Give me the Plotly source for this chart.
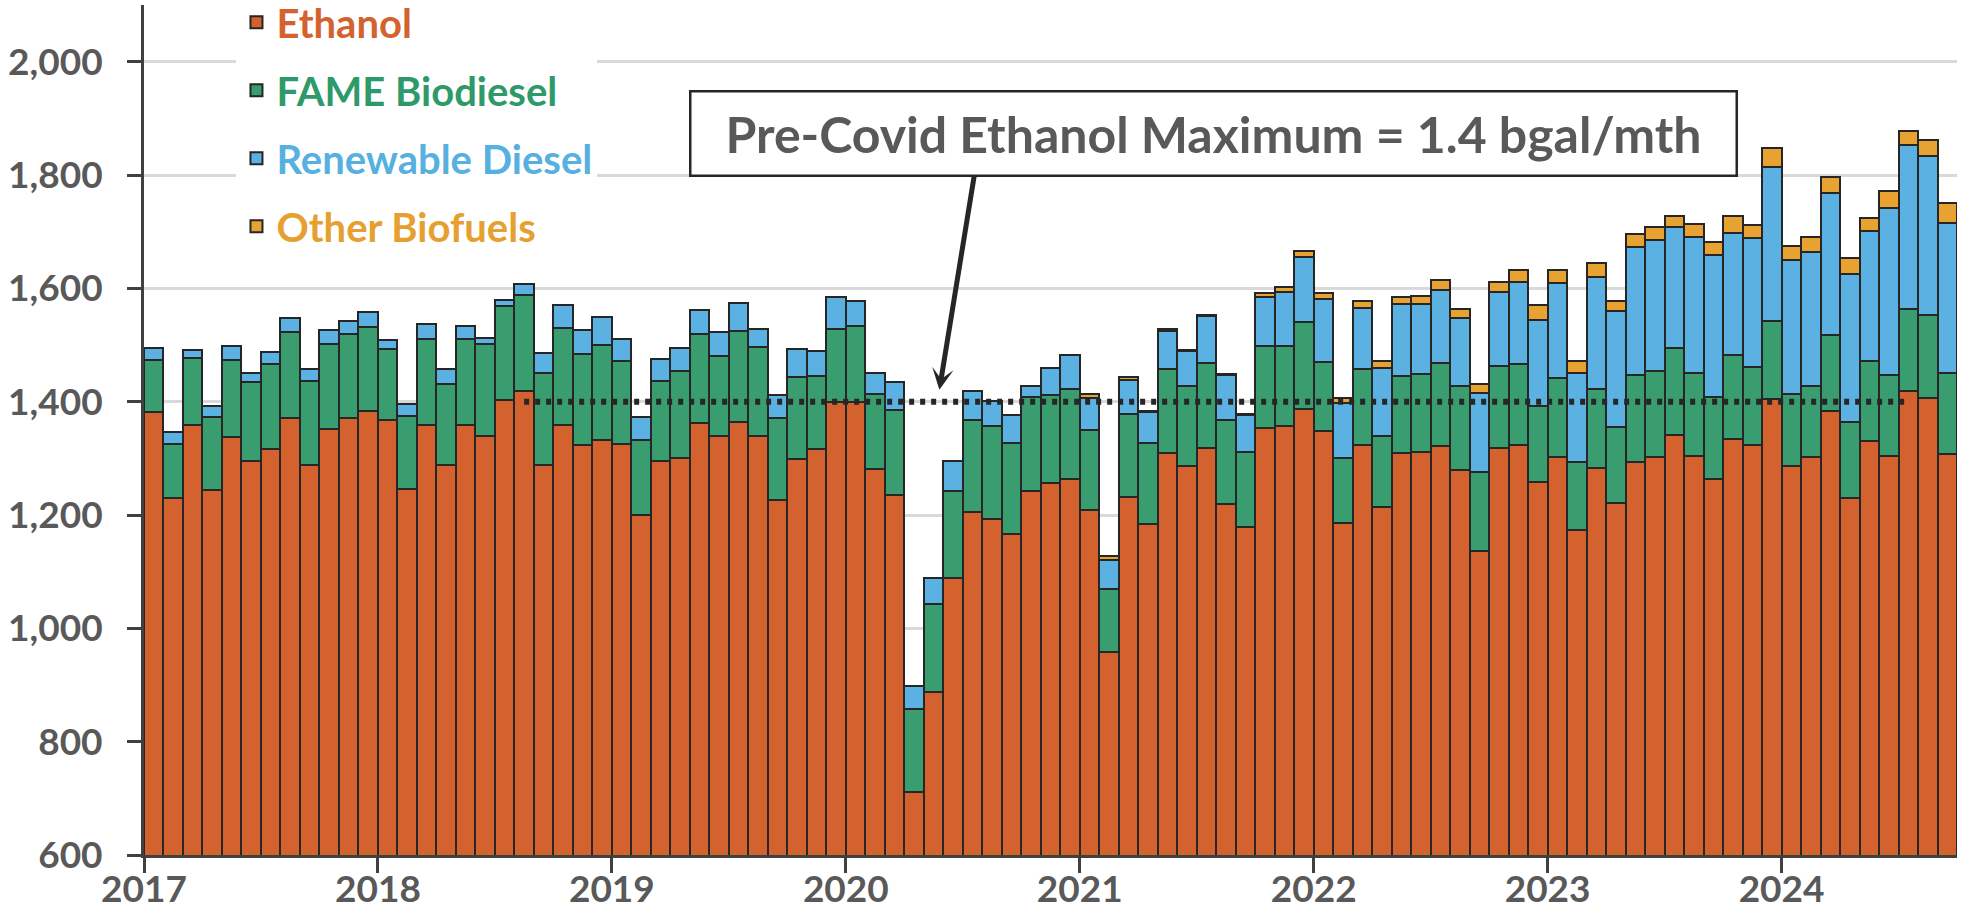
import plotly.graph_objects as go

# ---------------- data (million gallons per month) ----------------
years = ["2017", "2018", "2019", "2020", "2021", "2022", "2023", "2024"]
month_names = ["Jan", "Feb", "Mar", "Apr", "May", "Jun",
               "Jul", "Aug", "Sep", "Oct", "Nov", "Dec"]
months = [f"{m} {y}" for y in years for m in month_names][:93]  # Jan 2017 .. Sep 2024

ethanol = [
    1381, 1230, 1359, 1244, 1338, 1295, 1317, 1372, 1289, 1352, 1371, 1383,   # 2017
    1367, 1246, 1359, 1288, 1359, 1340, 1403, 1418, 1288, 1359, 1323, 1333,   # 2018
    1325, 1200, 1296, 1301, 1363, 1340, 1365, 1340, 1227, 1298, 1316, 1399,   # 2019
    1399, 1282, 1235, 712, 887, 1089, 1205, 1193, 1167, 1243, 1256, 1264,     # 2020
    1208, 959, 1231, 1184, 1309, 1286, 1318, 1220, 1178, 1353, 1357, 1387,    # 2021
    1348, 1186, 1323, 1215, 1309, 1311, 1321, 1279, 1136, 1318, 1323, 1259,   # 2022
    1303, 1173, 1283, 1222, 1293, 1303, 1342, 1304, 1263, 1335, 1324, 1404,   # 2023
    1287, 1302, 1383, 1230, 1330, 1305, 1419, 1407, 1307,                     # 2024
]
fame_biodiesel = [
    93, 95, 118, 129, 136, 140, 150, 151, 148, 150, 148, 149,
    126, 129, 151, 144, 152, 162, 166, 171, 163, 171, 162, 167,
    147, 132, 141, 154, 156, 141, 160, 157, 144, 145, 129, 130,
    135, 132, 151, 145, 156, 153, 162, 164, 160, 165, 155, 159,
    142, 110, 148, 143, 148, 142, 150, 148, 133, 145, 141, 154,
    122, 114, 134, 125, 136, 138, 147, 148, 140, 145, 143, 134,
    138, 120, 139, 133, 154, 152, 152, 146, 145, 148, 137, 139,
    126, 125, 134, 134, 141, 142, 144, 146, 143,
]
renewable_diesel = [
    21, 22, 15, 20, 25, 16, 21, 25, 21, 25, 23, 26,
    16, 21, 27, 26, 23, 10, 10, 18, 35, 40, 42, 49,
    38, 41, 39, 40, 43, 42, 49, 31, 40, 50, 44, 56,
    44, 37, 48, 41, 45, 54, 51, 45, 49, 20, 49, 60,
    56, 52, 60, 54, 68, 62, 83, 79, 65, 87, 96, 115,
    111, 97, 108, 120, 127, 123, 129, 120, 139, 130, 145, 152,
    168, 157, 198, 205, 226, 230, 215, 241, 250, 214, 228, 272,
    237, 237, 252, 262, 231, 295, 290, 280, 266,
]
other_biofuels = [None] * 48 + [
    7, 6, 4, 3, 3, 2, 2, 2, 2, 6, 8, 10,
    10, 9, 12, 11, 13, 14, 17, 16, 16, 18, 22, 25,
    24, 22, 25, 17, 23, 24, 19, 22, 23, 30, 23, 33,
    25, 26, 28, 28, 22, 29, 24, 29, 35,
]

series_names = ["Ethanol", "FAME Biodiesel", "Renewable Diesel", "Other Biofuels"]
series_colors = ["#D3622F", "#3A9D6F", "#5BB2E2", "#E8A231"]
label_colors = ["#D3622F", "#2F9A69", "#56B0E0", "#E6A02F"]

y_ticks = [600, 800, 1000, 1200, 1400, 1600, 1800, 2000]
y_range = [600, 2100]

pre_covid_max = 1400
ref_line_months = ["Aug 2018", "Jul 2024"]
annotation_text = "Pre-Covid Ethanol Maximum = 1.4 bgal/mth"

# ---------------- figure ----------------
FONT = "Lato"
GREY_TEXT = "#595959"
AXIS = "#404040"
OUTLINE = "#262626"

x_pos = list(range(len(months)))
fig = go.Figure()

for name, vals, col, lcol in zip(series_names,
                                 [ethanol, fame_biodiesel, renewable_diesel, other_biofuels],
                                 series_colors, label_colors):
    fig.add_trace(go.Bar(
        x=x_pos, y=vals,
        name=f"<span style='color:{lcol}'>{name}</span>",
        legendgroup=name,
        marker=dict(color=col, line=dict(color=OUTLINE, width=2)),
        customdata=months,
        hovertemplate="%{customdata}: %{y}<extra>" + name + "</extra>",
    ))

# dotted reference line at pre-covid ethanol maximum
fig.add_trace(go.Scatter(
    x=[months.index(ref_line_months[0]), months.index(ref_line_months[1])],
    y=[pre_covid_max, pre_covid_max],
    mode="lines",
    line=dict(color=OUTLINE, width=6, dash="5px,6px"),
    showlegend=False, hoverinfo="skip",
))

year_tickvals = [i * 12 - 0.5 for i in range(len(years))]

fig.update_layout(
    width=1964, height=922,
    margin=dict(l=144, r=7, t=5, b=67, autoexpand=False),
    paper_bgcolor="white", plot_bgcolor="white",
    barmode="stack", bargap=0,
    font=dict(family=FONT, color=GREY_TEXT),
    legend=dict(
        x=0.051, y=1.018, xanchor="left", yanchor="top",
        bgcolor="white", borderwidth=0,
        font=dict(family=FONT, size=40, weight="bold"),
        traceorder="grouped", tracegroupgap=13,
        itemclick=False, itemdoubleclick=False,
    ),
    xaxis=dict(
        range=[-0.5, len(months) - 0.5],
        tickmode="array", tickvals=year_tickvals, ticktext=years,
        showgrid=False, zeroline=False,
        showline=True, linecolor=AXIS, linewidth=3,
        ticks="outside", ticklen=15, tickwidth=3, tickcolor=AXIS,
        tickfont=dict(family=FONT, size=37, color=GREY_TEXT, weight="bold"),
        ticklabelstandoff=-15,
        automargin=False,
        fixedrange=True,
    ),
    yaxis=dict(
        range=y_range,
        tickmode="array", tickvals=y_ticks, tickformat=",d",
        showgrid=True, gridcolor="#D9D9D9", gridwidth=2.5,
        zeroline=False,
        showline=True, linecolor=AXIS, linewidth=3,
        ticks="outside", ticklen=14, tickwidth=3, tickcolor=AXIS,
        tickfont=dict(family=FONT, size=37, color=GREY_TEXT, weight="bold"),
        ticklabelstandoff=17,
        automargin=False,
        fixedrange=True,
    ),
)

# annotation box
fig.add_annotation(
    x=54.35, y=1873, xref="x", yref="y",
    text=annotation_text, showarrow=False,
    font=dict(family=FONT, size=50, color=GREY_TEXT, weight="bold"),
    bgcolor="white", bordercolor=OUTLINE, borderwidth=2.5, borderpad=2,
    width=1040, height=78, align="center",
)
# arrow from the box down to the dotted line
fig.add_annotation(
    x=40.3, y=1421, xref="x", yref="y",
    text="", showarrow=True,
    ax=35, ay=-215, axref="pixel", ayref="pixel",
    arrowhead=3, arrowsize=0.72, arrowwidth=5, arrowcolor=OUTLINE,
)

fig.write_html(
    "out.html",
    config={"displayModeBar": False},
    post_script="document.body.style.margin='0';document.body.style.overflow='hidden';",
)
